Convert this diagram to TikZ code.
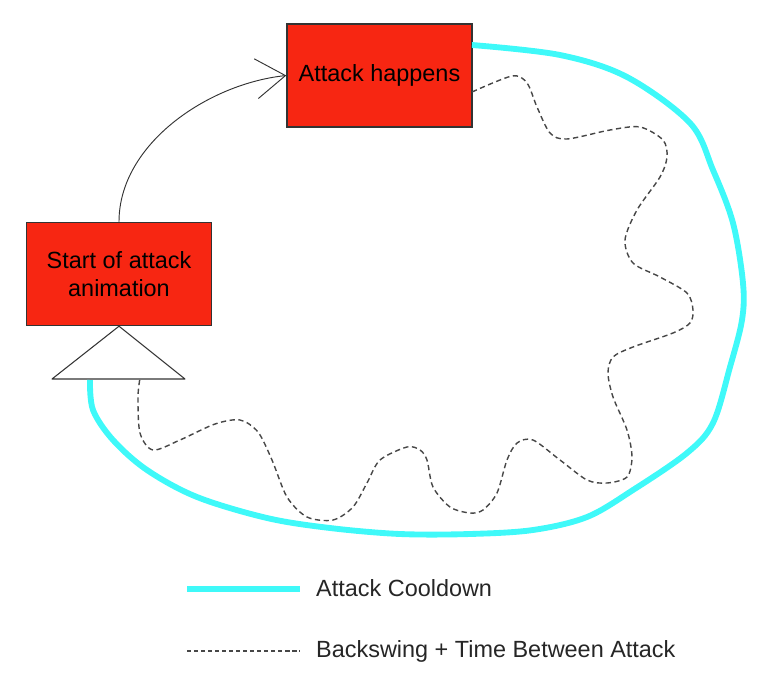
\documentclass[tikz,border=0pt]{standalone}
\usepackage{fontspec}
\setmainfont{Liberation Sans}
\usepackage{tikz}
\usetikzlibrary{positioning,arrows.meta}
\definecolor{boxred}{HTML}{F72612}
\definecolor{cyanline}{HTML}{3FF9F9}
\definecolor{darkline}{HTML}{333333}

\begin{document}
\begin{tikzpicture}[
    x=0.03cm, y=-0.03cm,
    box/.style={draw=darkline, line width=1.2pt, fill=boxred, minimum width=185*0.03cm, minimum height=103*0.03cm, align=center, font=\fontsize{20}{24}\selectfont},
    arr/.style={-{Straight Barb[length=25pt,width=34pt]}, line width=0.8pt, darkline},
    cooldown/.style={line width=5pt, cyanline},
    backswing/.style={line width=1.2pt, color=black!72, dash pattern=on 4.5pt off 3pt},
    keytext/.style={anchor=west, inner sep=0pt, font=\fontsize{20}{24}\selectfont, text=black!85}
]
  \useasboundingbox (0,0) rectangle (771,692);

  \node[box] (attack) at (379.5,75.5) {Attack happens};
  \node[box] (start) at (119,274) {Start of attack\\animation};

  % triangle under the start box
  \coordinate (triR) at (185,379);
  \coordinate (triL) at (52,379);
  \draw[darkline, line width=0.9pt, line join=round] (start.south) -- (triR) -- (triL) -- cycle;

  \draw[arr] (start.north) to[out=90, in=186, looseness=0.9] (attack.west);

  % cooldown loop
  \draw[cooldown] plot[smooth, tension=0.55] coordinates {
    (472,45) (560,55) (627,77) (690,123) (713,170) (733,223) (743,283)
    (742,320) (730,367) (713,423) (687,453) (633,490) (587,517) (533,530)
    (470,534) (400,534) (330,528) (267,518) (197,497) (147,470) (113,440) (93,410) (90,380)};

  % backswing wiggle
  \draw[backswing] plot[smooth, tension=0.5] coordinates {
    (472,92) (512,76) (527,83) (537,107) (550,133) (567,139) (610,130)
    (640,127) (663,140) (667,157) (660,177) (637,210) (625,240) (633,263)
    (660,277) (687,293) (693,310) (690,323) (673,333) (633,347) (613,357)
    (608,373) (613,397) (627,430) (632,457) (627,477) (607,483) (587,480)
    (560,460) (533,440) (517,443) (507,460) (497,493) (483,510) (470,513)
    (450,507) (433,487) (427,460) (420,450) (407,447) (380,460) (367,483)
    (353,507) (333,520) (307,517) (287,497) (272,460) (258,432) (240,420)
    (215,424) (180,440) (153,450) (140,433) (138,397) (140,378)};

  % legend
  \node[keytext] (cdText) at (316,588) {Attack Cooldown};
  \node[keytext] (bsText) at (316,651) {Backswing + Time Between Attack};
  \coordinate (cdA) at (187,589);
  \coordinate (cdB) at (300,589);
  \coordinate (bsA) at (187,651);
  \coordinate (bsB) at (300,651);
  \draw[cooldown] (cdA) -- (cdB);
  \draw[backswing, dash pattern=on 3.5pt off 2.5pt] (bsA) -- (bsB);
\end{tikzpicture}
\end{document}
